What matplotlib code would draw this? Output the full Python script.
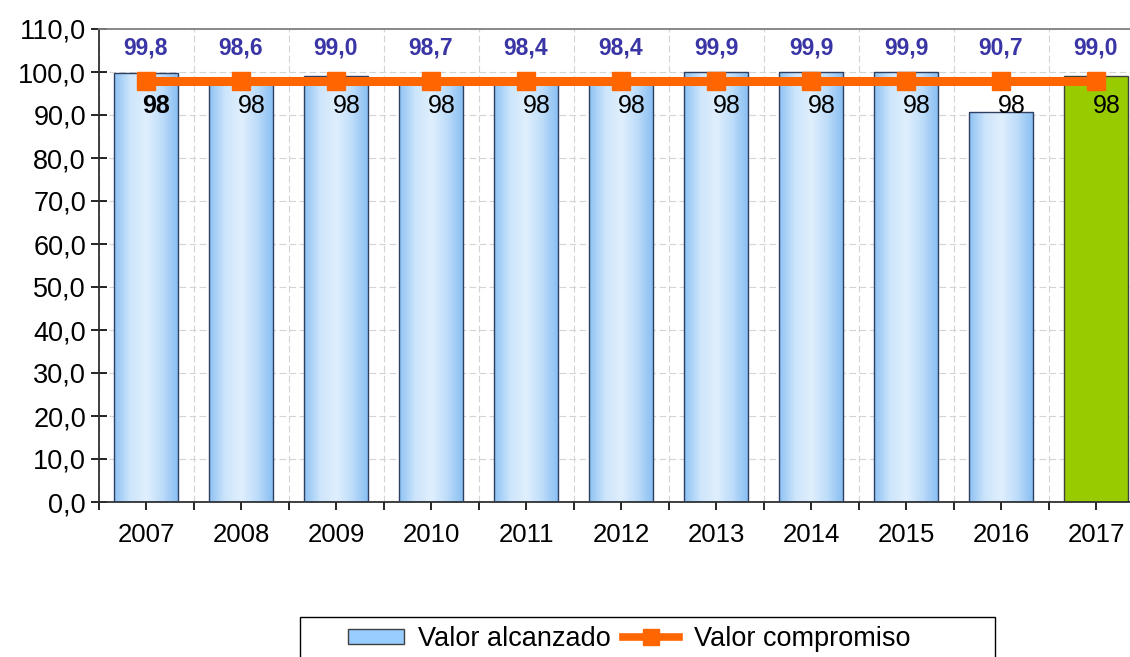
import numpy as np
import matplotlib
matplotlib.use("Agg")
from matplotlib import pyplot as plt
from matplotlib.patches import Rectangle
from matplotlib.lines import Line2D
from matplotlib.colors import LinearSegmentedColormap

plt.rcParams["font.family"] = ["Liberation Sans", "DejaVu Sans"]

years = ["2007", "2008", "2009", "2010", "2011", "2012", "2013", "2014", "2015", "2016", "2017"]
alcanzado = [99.8, 98.6, 99.0, 98.7, 98.4, 98.4, 99.9, 99.9, 99.9, 90.7, 99.0]
compromiso = [98, 98, 98, 98, 98, 98, 98, 98, 98, 98, 98]
alcanzado_txt = ["99,8", "98,6", "99,0", "98,7", "98,4", "98,4", "99,9", "99,9", "99,9", "90,7", "99,0"]

x = np.arange(len(years))
bar_w = 0.68

W, H = 1130, 657
fig = plt.figure(figsize=(W / 100, H / 100), dpi=100)
ax = fig.add_axes([98.5 / W, 1 - 502 / H, 1045 / W, 473 / H])

# blue bars drawn with a horizontal gradient, last year flat green
grad = LinearSegmentedColormap.from_list(
    "barblue", ["#8cc2f3", "#cde5fb", "#e0effd", "#bcdcf9", "#86bdf2"])
ramp = np.linspace(0, 1, 256).reshape(1, -1)
for i, v in enumerate(alcanzado):
    if i == len(years) - 1:
        ax.bar(x[i], v, width=bar_w, color="#99cc00", edgecolor="#404040",
               linewidth=1.0, zorder=2)
        continue
    rect = Rectangle((x[i] - bar_w / 2, 0), bar_w, v, facecolor="none",
                     edgecolor="#2f3f5f", linewidth=1.0, zorder=3)
    ax.add_patch(rect)
    im = ax.imshow(ramp, cmap=grad, aspect="auto", zorder=2,
                   extent=(x[i] - bar_w / 2, x[i] + bar_w / 2, 0, v))
    im.set_clip_path(rect)

ax.plot(x, compromiso, color="#ff6600", linewidth=6.5, marker="s",
        markersize=13, zorder=4)

for i in range(len(years)):
    ax.text(x[i], 105.5, alcanzado_txt[i], ha="center", va="center",
            fontsize=16.5, fontweight="bold", color="#3a35a5", zorder=5)
    ax.text(x[i] + 0.11, 92.2, str(compromiso[i]), ha="center", va="center",
            fontsize=18, fontweight="bold" if i == 0 else "normal",
            color="black", zorder=5)

ax.set_xlim(-0.5, len(years) - 0.5)
ax.set_ylim(0, 110)
ax.set_yticks(np.arange(0, 111, 10))
ax.set_yticklabels([f"{v:.1f}".replace(".", ",") for v in np.arange(0, 111, 10)],
                   fontsize=19.5)
ax.set_xticks(x)
ax.set_xticklabels(years, fontsize=18.5)
ax.set_xticks(np.arange(-0.5, len(years)), minor=True)

ax.tick_params(axis="y", direction="inout", length=12, width=1.2, pad=3)
ax.tick_params(axis="x", which="both", direction="out", length=6, width=1.2, pad=9)

ax.grid(axis="y", which="major", color="#d4d4d4", linestyle=(0, (6, 3)), linewidth=0.8, zorder=0)
ax.grid(axis="x", which="minor", color="#d4d4d4", linestyle=(0, (6, 3)), linewidth=0.8, zorder=0)
ax.set_axisbelow(True)

for side in ["left", "bottom", "top", "right"]:
    ax.spines[side].set_color("#303030")
    ax.spines[side].set_linewidth(1.3)
ax.spines["top"].set_color("#808080")

# legend box, partly running off the bottom edge
fig.patches.append(Rectangle((300 / W, -0.1), 695 / W, 0.1 + (1 - 617 / H),
                             transform=fig.transFigure, facecolor="white",
                             edgecolor="black", linewidth=1.0, zorder=1))
handles = [
    Rectangle((0, 0), 1, 1, facecolor="#99ccff", edgecolor="#404040", linewidth=1.0),
    Line2D([0], [0], color="#ff6600", linewidth=5.5, marker="s", markersize=11),
]
leg = fig.legend(handles, ["Valor alcanzado", "Valor compromiso"],
                 loc="center left", bbox_to_anchor=(348 / W, 1 - 639 / H), ncol=2,
                 frameon=False, fontsize=19.5, borderpad=0, borderaxespad=0,
                 handlelength=2.05, handleheight=0.52, columnspacing=0.45,
                 handletextpad=0.55)
leg.set_zorder(2)

fig.savefig("out.png", dpi=100)
